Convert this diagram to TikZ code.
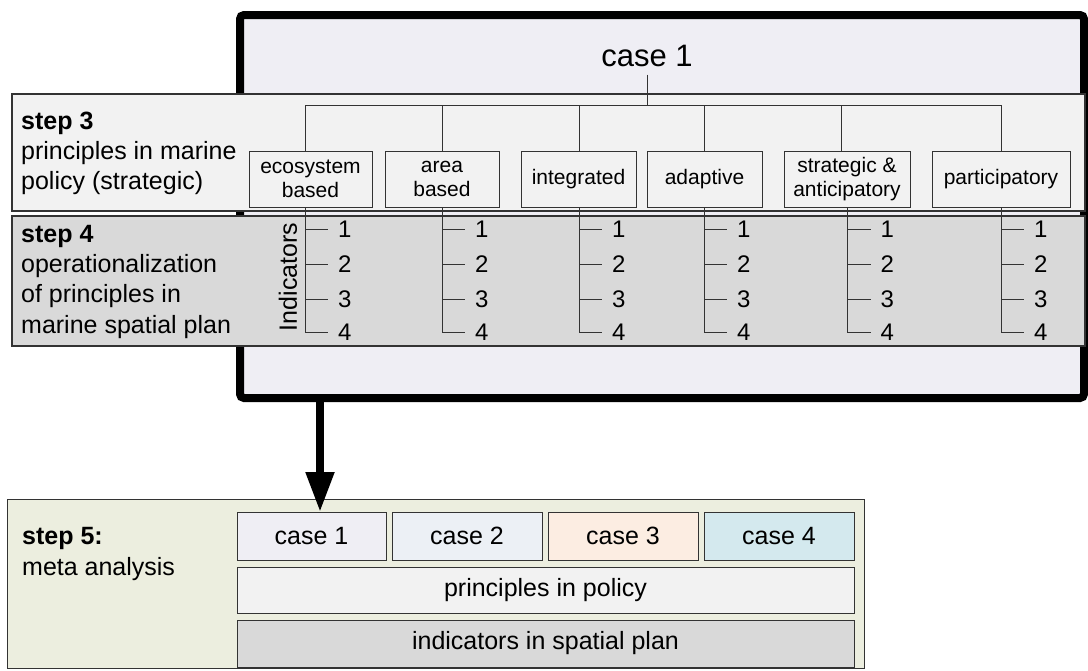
\documentclass[tikz,border=0pt]{standalone}
\usepackage{fontspec}
\setmainfont{Liberation Sans}
\usetikzlibrary{arrows.meta}
\definecolor{framefill}{HTML}{EFEEF4}
\definecolor{bandthree}{HTML}{F2F2F2}
\definecolor{bandfour}{HTML}{D9D9D9}
\definecolor{stepfive}{HTML}{ECEEDF}
\definecolor{caseone}{HTML}{EFEEF4}
\definecolor{casetwo}{HTML}{ECF0F5}
\definecolor{casethree}{HTML}{FCEDE2}
\definecolor{casefour}{HTML}{D4E9EE}
\definecolor{linegray}{HTML}{333333}
\begin{document}
\begin{tikzpicture}[x=1pt,y=-1pt,
  band/.style={draw=linegray, line width=1.2pt, inner sep=0pt, outer sep=0pt},
  pbox/.style={draw=linegray, fill=bandthree, line width=1pt, inner sep=0pt, outer sep=0pt,
    align=center, font=\fontsize{21}{24}\selectfont},
  cbox/.style={draw=linegray, line width=1pt, inner sep=0pt, outer sep=0pt,
    align=center, font=\fontsize{25}{30}\selectfont},
  tree/.style={draw=linegray, line width=0.9pt},
  num/.style={font=\fontsize{24}{24}\selectfont, inner ysep=0pt, inner xsep=10pt, outer sep=0pt},
  lbl/.style={font=\fontsize{25}{30}\selectfont, inner sep=0pt, anchor=base west},
  lblb/.style={font=\fontsize{25}{30}\selectfont\bfseries, inner sep=0pt, anchor=base west}]
\useasboundingbox (0,0) rectangle (1088,670);

% case frame
\node[draw=black, fill=framefill, line width=8pt, rounded corners=4pt, inner sep=0pt, outer sep=0pt,
  minimum width=844pt, minimum height=383pt] (frame) at (662,206.5) {};
\node[font=\fontsize{31}{31}\selectfont, anchor=base, inner xsep=0pt, inner ysep=8pt] (title) at (647,66) {case 1};

% bands
\node[band, fill=bandthree, minimum width=1073pt, minimum height=117pt] (band3) at (548.5,152.5) {};
\node[band, fill=bandfour, minimum width=1073pt, minimum height=130pt] (band4) at (548.5,281) {};

% band labels
\node[lblb] (s3a) at (21,129) {step 3};
\node[lbl] (s3b) at (21,159) {principles in marine};
\node[lbl] (s3c) at (21,189) {policy (strategic)};
\node[lblb] (s4a) at (21,242) {step 4};
\node[lbl] (s4b) at (21,272) {operationalization};
\node[lbl] (s4c) at (21,302) {of principles in};
\node[lbl] (s4d) at (21,333) {marine spatial plan};
\node[font=\fontsize{25}{25}\selectfont, rotate=90, inner sep=0pt] (ind) at (288,277) {Indicators};

% principle boxes
\node[pbox, minimum width=123pt, minimum height=56pt] (eco) at (310.5,179) {ecosystem\\based};
\node[pbox, minimum width=114pt, minimum height=56pt] (area) at (442,179) {area\\based};
\node[pbox, minimum width=115pt, minimum height=56pt] (integ) at (578.5,179) {integrated};
\node[pbox, minimum width=115pt, minimum height=56pt] (adapt) at (704.5,179) {adaptive};
\node[pbox, minimum width=126pt, minimum height=56pt] (strat) at (847,179) {strategic \&\\anticipatory};
\node[pbox, minimum width=138pt, minimum height=56pt] (partic) at (1001,179) {participatory};

% tree from case 1
\coordinate (hub) at (647,105);
\draw[tree] (title.south) -- (hub);
\foreach \b/\x in {eco/305,area/442,integ/579,adapt/704,strat/841,partic/1001} {
  \coordinate (\b-br) at (\x,105);
  \draw[tree] (\b-br) -- (\b-br |- \b.north);
}
\draw[tree] (eco-br) -- (partic-br);

% indicators
\foreach \b/\x in {eco/305,area/442,integ/579,adapt/704,strat/847.5,partic/1001} {
  \foreach \k/\y in {1/229,2/264,3/299,4/332} {
    \node[num, anchor=west] (\b-\k) at (\x+23,\y) {\k};
  }
  \coordinate (\b-bot) at (\x,332);
  \draw[tree] (\b.south -| \b-bot) -- (\b-bot) -- (\b-4.west);
  \foreach \k in {1,2,3} {
    \draw[tree] (\b-\k.west -| \b-bot) -- (\b-\k.west);
  }
}

% step 5
\node[draw=linegray, fill=stepfive, line width=1pt, inner sep=0pt, outer sep=0pt,
  minimum width=857pt, minimum height=169pt] (step5) at (435.5,583.5) {};
\node[lblb] (s5a) at (22,544) {step 5:};
\node[lbl] (s5b) at (22,575) {meta analysis};
\node[cbox, fill=caseone, minimum width=149pt, minimum height=48pt] (case1) at (311.5,536) {case 1};
\node[cbox, fill=casetwo, minimum width=150pt, minimum height=48pt] (case2) at (467,536) {case 2};
\node[cbox, fill=casethree, minimum width=150pt, minimum height=48pt] (case3) at (623,536) {case 3};
\node[cbox, fill=casefour, minimum width=150pt, minimum height=48pt] (case4) at (779,536) {case 4};
\node[cbox, fill=bandthree, minimum width=617pt, minimum height=46pt] (pol) at (545.5,590) {principles in policy};
\node[cbox, fill=bandfour, minimum width=617pt, minimum height=47pt] (plan) at (545.5,643.5) {indicators in spatial plan};

% arrow
\coordinate (arrowtop) at (320,398);
\draw[line width=8pt, -{Triangle[length=40pt,width=27pt]}] (arrowtop) -- (arrowtop |- case1.north);
\end{tikzpicture}
\end{document}
